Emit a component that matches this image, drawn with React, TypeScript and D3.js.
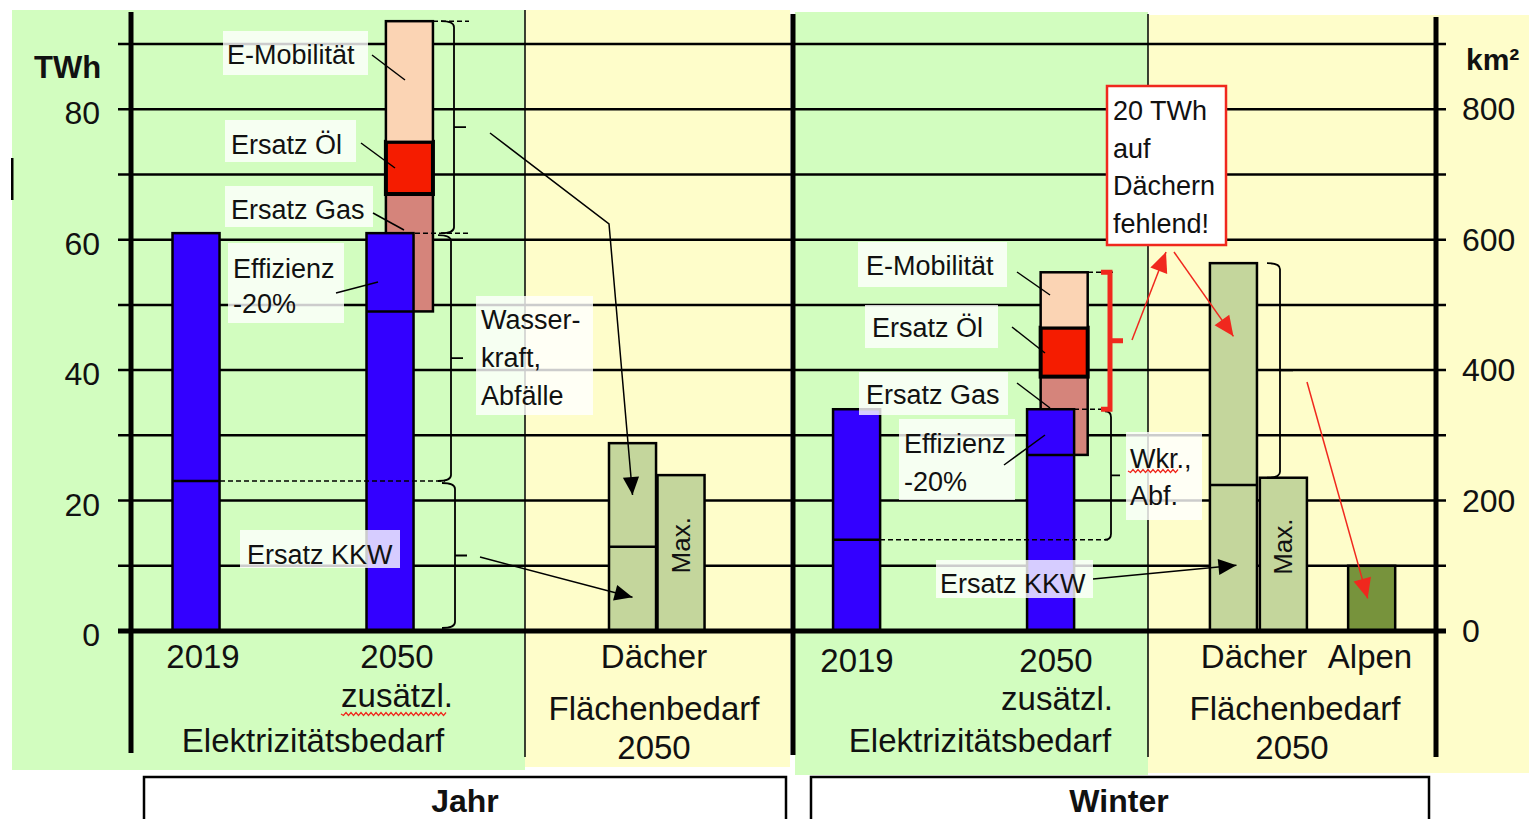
import React from 'react';
import * as d3 from 'd3';

/* ──────────  data  ────────── */
const seasons = ['Jahr', 'Winter'];
const demand2019 = [61, 34];       // TWh, 2019 bar (and 2050 base)
const kkwShare = [23, 14];         // TWh, Ersatz KKW part of 2019
const demand2050Eff = [49, 27];    // TWh after Effizienz -20 %
const addGas = [18, 12];           // TWh Ersatz Gas
const addOel = [8, 7.5];           // TWh Ersatz Öl
const addEMob = [18.5, 8.5];       // TWh E-Mobilität
const roofArea = [288, 564];       // km² Dächer
const roofSplit = [129, 224];      // km² line inside Dächer bar
const roofMax = [239, 235];        // km² Max.
const alpenArea = [0, 100];        // km² Alpen (winter only)
const twhTicks = [0, 20, 40, 60, 80];
const kmTicks = [0, 200, 400, 600, 800];
const gridTicks = [10, 20, 30, 40, 50, 60, 70, 80, 90];

/* ──────────  look  ────────── */
const W = 1529, H = 819;
const FONT = '"Liberation Sans", Arial, Helvetica, sans-serif';
const INK = '#111';
const C = {
  green: '#d2fdbf',
  yellow: '#fefdca',
  blue: '#3300ff',
  emob: '#fbd4b4',
  oel: '#f51c00',
  gas: '#d5847b',
  roof: '#c4d69c',
  alpen: '#77933c',
  red: '#f0281e'
};

/* scales */
const y = d3.scaleLinear().domain([0, 90]).range([631, 44]);
const yKm = d3.scaleLinear().domain([0, 900]).range([631, 44]);
const col = d3.scaleLinear().domain([0, 27]).range([124, 1433.5]); // column units
const BW = col(0.97) - col(0);

/* column slots of each season's bars */
const slots = [
  { c2019: 1, c2050: 5, cAdd: 5.4, cRoof: 10, cMax: 11, cAlpen: 0 },
  { c2019: 14.62, c2050: 18.62, cAdd: 18.9, cRoof: 22.39, cMax: 23.42, cAlpen: 25.24 }
];

const AX = { left: 131, mid: 793, right: 1436 };

/* stacked additions on top of the efficient 2050 base */
const stackKeys = ['gas', 'oel', 'emob'];
const stackColor = { gas: C.gas, oel: C.oel, emob: C.emob };
const stackRows = seasons.map((_, i) => ({ gas: addGas[i], oel: addOel[i], emob: addEMob[i] }));
const stacked = d3.stack().keys(stackKeys)(stackRows);

/* annotation boxes (white, semi transparent) */
const notes = [
  { box: [223, 31, 145, 44], lines: ['E-Mobilität'], tx: 227, ty: 64, lh: 0 },
  { box: [225, 120, 131, 42], lines: ['Ersatz Öl'], tx: 231, ty: 154, lh: 0 },
  { box: [225, 186, 148, 41], lines: ['Ersatz Gas'], tx: 231, ty: 219, lh: 0 },
  { box: [228, 243, 116, 80], lines: ['Effizienz', '-20%'], tx: 233, ty: 278, lh: 35 },
  { box: [240, 530, 160, 38], lines: ['Ersatz KKW'], tx: 247, ty: 564, lh: 0 },
  { box: [476, 296, 117, 119], lines: ['Wasser-', 'kraft,', 'Abfälle'], tx: 481, ty: 329, lh: 38 },
  { box: [858, 242, 149, 45], lines: ['E-Mobilität'], tx: 866, ty: 275, lh: 0 },
  { box: [865, 305, 133, 43], lines: ['Ersatz Öl'], tx: 872, ty: 337, lh: 0 },
  { box: [859, 372, 149, 43], lines: ['Ersatz Gas'], tx: 866, ty: 404, lh: 0 },
  { box: [899, 419, 116, 81], lines: ['Effizienz', '-20%'], tx: 904, ty: 453, lh: 38 },
  { box: [936, 560, 157, 38], lines: ['Ersatz KKW'], tx: 940, ty: 593, lh: 0 },
  { box: [1126, 432, 76, 88], lines: ['Wkr.,', 'Abf.'], tx: 1130, ty: 468, lh: 37 }
];

const leaders = [
  [[372, 55], [405, 80]], [[361, 143], [395, 168]], [[373, 213], [404, 230]], [[336, 293], [378, 282]],
  [[1017, 272], [1050, 295]], [[1012, 327], [1045, 353]], [[1017, 383], [1050, 408]], [[1004, 465], [1045, 435]]
];

/* category labels under the axis */
const catLabels = [
  { t: '2019', x: 203, y: 668 }, { t: '2050', x: 397, y: 668 }, { t: 'zusätzl.', x: 397, y: 707, squiggle: true },
  { t: 'Elektrizitätsbedarf', x: 313, y: 752 },
  { t: 'Dächer', x: 654, y: 668 }, { t: 'Flächenbedarf', x: 654, y: 720 }, { t: '2050', x: 654, y: 759 },
  { t: '2019', x: 857, y: 672 }, { t: '2050', x: 1056, y: 672 }, { t: 'zusätzl.', x: 1057, y: 710 },
  { t: 'Elektrizitätsbedarf', x: 980, y: 752 },
  { t: 'Dächer', x: 1254, y: 668 }, { t: 'Alpen', x: 1370, y: 668 },
  { t: 'Flächenbedarf', x: 1295, y: 720 }, { t: '2050', x: 1292, y: 759 }
];

const squiggle = (x0, x1, yy) => {
  let d = `M${x0},${yy}`;
  for (let x = x0, k = 0; x < x1; x += 2.5, k++) d += ` L${x + 2.5},${yy + (k % 2 ? -1.5 : 1.5)}`;
  return d;
};

/* right curly-ish bracket: hook left at ends, tick right in the middle */
const bracket = (x, y0, y1, hook = 13, tick = 12) => {
  const ym = (y0 + y1) / 2;
  return `M${x - hook},${y0} Q${x},${y0} ${x},${y0 + 6} V${y1 - 6} Q${x},${y1} ${x - hook},${y1} M${x},${ym} H${x + tick}`;
};

const Bar = ({ x, y0, y1, fill, sw = 2.5 }) => (
  <rect x={x} y={Math.min(y0, y1)} width={BW} height={Math.abs(y1 - y0)} fill={fill} stroke="#000" strokeWidth={sw} />
);

export default function App() {
  const lineAt = (x, yy) => <line x1={x} x2={x + BW} y1={yy} y2={yy} stroke="#000" strokeWidth={2.5} />;

  return (
    <svg width={W} height={H} style={{ position: 'absolute', left: 0, top: 0, background: '#fff' }}
      fontFamily={FONT}>
      <defs>
        <marker id="arrK" viewBox="0 0 20 20" markerWidth={20} markerHeight={18} refX={20} refY={10}
          orient="auto" markerUnits="userSpaceOnUse">
          <path d="M0,1 L20,10 L0,19 Z" fill="#000" />
        </marker>
        <marker id="arrR" viewBox="0 0 20 20" markerWidth={22} markerHeight={20} refX={20} refY={10}
          orient="auto" markerUnits="userSpaceOnUse">
          <path d="M0,1 L20,10 L0,19 Z" fill={C.red} />
        </marker>
      </defs>

      {/* panel backgrounds */}
      <rect x={12} y={10} width={513} height={760} fill={C.green} />
      <rect x={525} y={10} width={265} height={757} fill={C.yellow} />
      <rect x={795} y={12} width={353} height={763} fill={C.green} />
      <rect x={1148} y={15} width={381} height={758} fill={C.yellow} />
      <rect x={11} y={158} width={2.5} height={42} fill="#000" />
      <line x1={525} x2={525} y1={10} y2={757} stroke="#000" strokeWidth={1.5} />
      <line x1={1148} x2={1148} y1={14} y2={757} stroke="#000" strokeWidth={1.5} />

      {/* grid */}
      {gridTicks.map(t => (
        <line key={t} x1={118} x2={1446} y1={y(t)} y2={y(t)} stroke="#000" strokeWidth={2.5} />
      ))}

      {/* bars */}
      {seasons.map((s, i) => {
        const sl = slots[i];
        const base = demand2050Eff[i];
        return (
          <g key={s}>
            {/* 2019 */}
            <Bar x={col(sl.c2019)} y0={y(0)} y1={y(demand2019[i])} fill={C.blue} />
            {lineAt(col(sl.c2019), y(kkwShare[i]))}
            {/* 2050 additions */}
            {stacked.map(layer => (
              <Bar key={layer.key} x={col(sl.cAdd)} y0={y(base + layer[i][0])} y1={y(base + layer[i][1])}
                fill={stackColor[layer.key]} sw={layer.key === 'oel' ? 4 : 2.5} />
            ))}
            {/* 2050 base */}
            <Bar x={col(sl.c2050)} y0={y(0)} y1={y(demand2019[i])} fill={C.blue} />
            {lineAt(col(sl.c2050), y(base))}
            {/* Dächer */}
            <Bar x={col(sl.cRoof)} y0={yKm(0)} y1={yKm(roofArea[i])} fill={C.roof} />
            {lineAt(col(sl.cRoof), yKm(roofSplit[i]))}
            {/* Max */}
            <Bar x={col(sl.cMax)} y0={yKm(0)} y1={yKm(roofMax[i])} fill={C.roof} />
            <text transform={`translate(${col(sl.cMax) + BW / 2 + 9},${yKm(roofMax[i] * 0.55)}) rotate(-90)`}
              textAnchor="middle" fontSize={26} fill={INK}>Max.</text>
            {alpenArea[i] > 0 && (
              <Bar x={col(sl.cAlpen)} y0={yKm(0)} y1={yKm(alpenArea[i])} fill={C.alpen} />
            )}
          </g>
        );
      })}

      {/* axes */}
      <line x1={118} x2={1446} y1={y(0)} y2={y(0)} stroke="#000" strokeWidth={5} />
      <line x1={AX.left} x2={AX.left} y1={12} y2={753} stroke="#000" strokeWidth={5} />
      <line x1={AX.mid} x2={AX.mid} y1={14} y2={755} stroke="#000" strokeWidth={5} />
      <line x1={AX.right} x2={AX.right} y1={17} y2={757} stroke="#000" strokeWidth={5} />

      {twhTicks.map(t => (
        <text key={t} x={100} y={y(t) + 15} textAnchor="end" fontSize={32} fill={INK}>{t}</text>
      ))}
      {kmTicks.map(t => (
        <text key={t} x={1462} y={yKm(t) + 11} fontSize={32} fill={INK}>{t}</text>
      ))}
      <text x={34} y={78} fontSize={31} fontWeight="bold" fill={INK}>TWh</text>
      <text x={1466} y={70} fontSize={30} fontWeight="bold" fill={INK}>km²</text>

      {/* Jahr brackets and dashed guides */}
      <g fill="none" stroke="#000" strokeWidth={1.8}>
        <path d={bracket(454, y(demand2019[0] + 32.5), y(demand2019[0]))} />
        <path d={bracket(451, y(demand2019[0]) + 2, y(kkwShare[0]))} />
        <path d={bracket(455, y(kkwShare[0]) + 2, y(0) - 3)} />
        <path d={bracket(1111, y(demand2019[1]) + 2, y(kkwShare[1]), 6, 9)} />
        <path d={bracket(1280, yKm(roofArea[1]), yKm(roofMax[1]), 13, 13)} />
      </g>
      <g stroke="#000" strokeWidth={1.5} strokeDasharray="5,3">
        <line x1={433} x2={469} y1={y(demand2050Eff[0] + 44.5)} y2={y(demand2050Eff[0] + 44.5)} />
        <line x1={415} x2={469} y1={y(demand2019[0])} y2={y(demand2019[0])} />
        <line x1={220} x2={445} y1={y(kkwShare[0])} y2={y(kkwShare[0])} />
        <line x1={1088} x2={1113} y1={y(55)} y2={y(55)} />
        <line x1={1074} x2={1113} y1={y(demand2019[1])} y2={y(demand2019[1])} />
        <line x1={880} x2={1108} y1={y(kkwShare[1])} y2={y(kkwShare[1])} />
      </g>
      {/* red winter bracket */}
      <path d={`M1101,${y(55)} H1110 V${y(demand2019[1])} H1101 M1110,${(y(55) + y(demand2019[1])) / 2} H1123`}
        fill="none" stroke={C.red} strokeWidth={5} />

      {/* annotation boxes */}
      {notes.map((n, k) => (
        <g key={k}>
          <rect x={n.box[0]} y={n.box[1]} width={n.box[2]} height={n.box[3]} fill="#fff" fillOpacity={0.8} />
          {n.lines.map((t, j) => (
            <text key={j} x={n.tx} y={n.ty + j * n.lh} fontSize={27} fill={INK}>{t}</text>
          ))}
        </g>
      ))}
      <path d={squiggle(1128, 1178, 471)} fill="none" stroke={C.red} strokeWidth={1.2} />

      {/* leader lines */}
      {leaders.map((l, k) => (
        <line key={k} x1={l[0][0]} y1={l[0][1]} x2={l[1][0]} y2={l[1][1]} stroke="#000" strokeWidth={1.5} />
      ))}

      {/* arrows */}
      <g fill="none" stroke="#000" strokeWidth={1.5}>
        <path d={`M490,133 L609,224 L${col(slots[0].cRoof) + BW / 2},${yKm((roofSplit[0] + roofArea[0]) / 2)}`}
          markerEnd="url(#arrK)" />
        <path d={`M480,557 L${col(slots[0].cRoof) + BW / 2},${yKm(roofSplit[0] * 0.4)}`} markerEnd="url(#arrK)" />
        <path d={`M1093,579 L${col(slots[1].cRoof) + BW / 2 + 3},${yKm(roofSplit[1] * 0.45)}`} markerEnd="url(#arrK)" />
      </g>
      <g fill="none" stroke={C.red} strokeWidth={1.5}>
        <path d="M1132,340 L1166,252" markerEnd="url(#arrR)" />
        <path d={`M1174,252 L${col(slots[1].cRoof) + BW / 2},${yKm(roofSplit[1] + 0.67 * (roofArea[1] - roofSplit[1]))}`}
          markerEnd="url(#arrR)" />
        <path d={`M1307,382 L${col(slots[1].cAlpen) + BW / 2 - 4},${yKm(alpenArea[1] / 2)}`} markerEnd="url(#arrR)" />
      </g>

      {/* red call-out */}
      <rect x={1107} y={86} width={119} height={159} fill="#fff" stroke={C.red} strokeWidth={2.5} />
      {['20 TWh', 'auf', 'Dächern', 'fehlend!'].map((t, j) => (
        <text key={t} x={1113} y={120 + j * 37.7} fontSize={27} fill={INK}>{t}</text>
      ))}

      {/* category labels */}
      {catLabels.map((c, k) => (
        <text key={k} x={c.x} y={c.y} textAnchor="middle" fontSize={33} fill={INK}>{c.t}</text>
      ))}
      <path d={squiggle(341, 446, 714)} fill="none" stroke={C.red} strokeWidth={1.2} />

      {/* season boxes */}
      <rect x={144} y={777} width={642} height={60} fill="#fff" stroke="#000" strokeWidth={2.5} />
      <rect x={811} y={777} width={618} height={60} fill="#fff" stroke="#000" strokeWidth={2.5} />
      <text x={465} y={812} textAnchor="middle" fontSize={32} fontWeight="bold" fill={INK}>{seasons[0]}</text>
      <text x={1119} y={812} textAnchor="middle" fontSize={32} fontWeight="bold" fill={INK}>{seasons[1]}</text>
    </svg>
  );
}
